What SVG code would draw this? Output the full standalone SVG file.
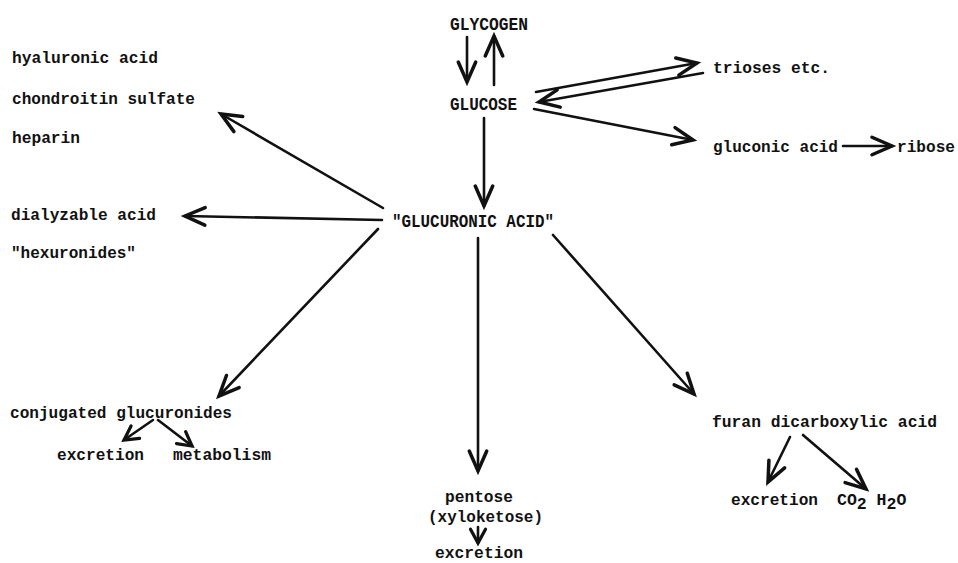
<svg xmlns="http://www.w3.org/2000/svg" width="958" height="563" viewBox="0 0 958 563">
<defs>
<style>
text{font-family:"Liberation Mono","DejaVu Sans Mono",monospace;font-weight:bold;font-size:16.5px;fill:#111}
.cap{font-size:18px}
.c line{stroke:#111;stroke-width:2.6;stroke-linecap:round;fill:none;marker-end:url(#ah)}
.sm line{marker-end:url(#ahs)}
</style>
<marker id="ah" markerUnits="userSpaceOnUse" markerWidth="30" markerHeight="30" viewBox="-20 -12 24 24" refX="0" refY="0" orient="auto" overflow="visible">
<path d="M-16,-7 L0,0 L-16,7" fill="none" stroke="#111" stroke-width="2.8" stroke-linecap="round" stroke-linejoin="miter"/>
</marker>
<marker id="ahs" markerUnits="userSpaceOnUse" markerWidth="30" markerHeight="30" viewBox="-20 -12 24 24" refX="0" refY="0" orient="auto" overflow="visible">
<path d="M-11,-6 L0,0 L-11,6" fill="none" stroke="#111" stroke-width="2.6" stroke-linecap="round"/>
</marker>
</defs>
<rect width="958" height="563" fill="#fff"/>
<g id="glycogen"><text class="cap" x="450" y="30" textLength="78" lengthAdjust="spacingAndGlyphs">GLYCOGEN</text></g>
<g id="glucose"><text class="cap" x="450" y="110" textLength="67" lengthAdjust="spacingAndGlyphs">GLUCOSE</text></g>
<g id="trioses"><text x="713" y="73" textLength="117" lengthAdjust="spacingAndGlyphs">trioses etc.</text></g>
<g id="gluconic"><text x="713" y="152" textLength="125" lengthAdjust="spacingAndGlyphs">gluconic acid</text></g>
<g id="ribose"><text x="897" y="152" textLength="58" lengthAdjust="spacingAndGlyphs">ribose</text></g>
<g id="hyaluronic"><text x="12" y="63" textLength="146" lengthAdjust="spacingAndGlyphs">hyaluronic acid</text></g>
<g id="chondroitin"><text x="12" y="104" textLength="183" lengthAdjust="spacingAndGlyphs">chondroitin sulfate</text></g>
<g id="heparin"><text x="12" y="143" textLength="68" lengthAdjust="spacingAndGlyphs">heparin</text></g>
<g id="dialyzable"><text x="11" y="220" textLength="145" lengthAdjust="spacingAndGlyphs">dialyzable acid</text></g>
<g id="hexuronides"><text x="11" y="258" textLength="125" lengthAdjust="spacingAndGlyphs">"hexuronides"</text></g>
<g id="glucuronic"><text class="cap" x="392" y="227" textLength="162" lengthAdjust="spacingAndGlyphs">"GLUCURONIC ACID"</text></g>
<g id="conjugated"><text x="10" y="418" textLength="222" lengthAdjust="spacingAndGlyphs">conjugated glucuronides</text></g>
<g id="excretion1"><text x="57" y="460" textLength="87" lengthAdjust="spacingAndGlyphs">excretion</text></g>
<g id="metabolism"><text x="173" y="460" textLength="98" lengthAdjust="spacingAndGlyphs">metabolism</text></g>
<g id="furan"><text x="712" y="427" textLength="225" lengthAdjust="spacingAndGlyphs">furan dicarboxylic acid</text></g>
<g id="excretion3"><text x="731" y="505" textLength="87" lengthAdjust="spacingAndGlyphs">excretion</text></g>
<g id="co2h2o"><text x="837" y="505">CO<tspan dy="4">2</tspan><tspan dy="-4"> H</tspan><tspan dy="4">2</tspan><tspan dy="-4">O</tspan></text></g>
<g id="pentose"><text x="445" y="502" textLength="68" lengthAdjust="spacingAndGlyphs">pentose</text><text x="428" y="522" textLength="115" lengthAdjust="spacingAndGlyphs">(xyloketose)</text></g>
<g id="excretion2"><text x="435" y="558" textLength="88" lengthAdjust="spacingAndGlyphs">excretion</text></g>
<g id="connectors" class="c">
<line x1="467" y1="37" x2="467" y2="82"/>
<line x1="494" y1="85" x2="494" y2="36"/>
<line x1="536" y1="92" x2="697" y2="63"/>
<line x1="703" y1="73" x2="539" y2="102"/>
<line x1="534" y1="109" x2="693" y2="140"/>
<line x1="843" y1="146" x2="892" y2="146"/>
<line x1="484" y1="118" x2="484" y2="206"/>
<line x1="383" y1="208" x2="221" y2="114"/>
<line x1="382" y1="220" x2="185" y2="216"/>
<line x1="378" y1="229" x2="219" y2="396"/>
<line x1="478" y1="238" x2="478" y2="471"/>
<line x1="553" y1="235" x2="694" y2="394"/>
<g class="sm">
<line x1="153" y1="420" x2="124" y2="440"/>
<line x1="158" y1="420" x2="192" y2="446"/>
<line x1="478" y1="527" x2="478" y2="543"/>
</g>
<line x1="790" y1="437" x2="768" y2="482"/>
<line x1="803" y1="435" x2="866" y2="489"/>
</g>
</svg>
